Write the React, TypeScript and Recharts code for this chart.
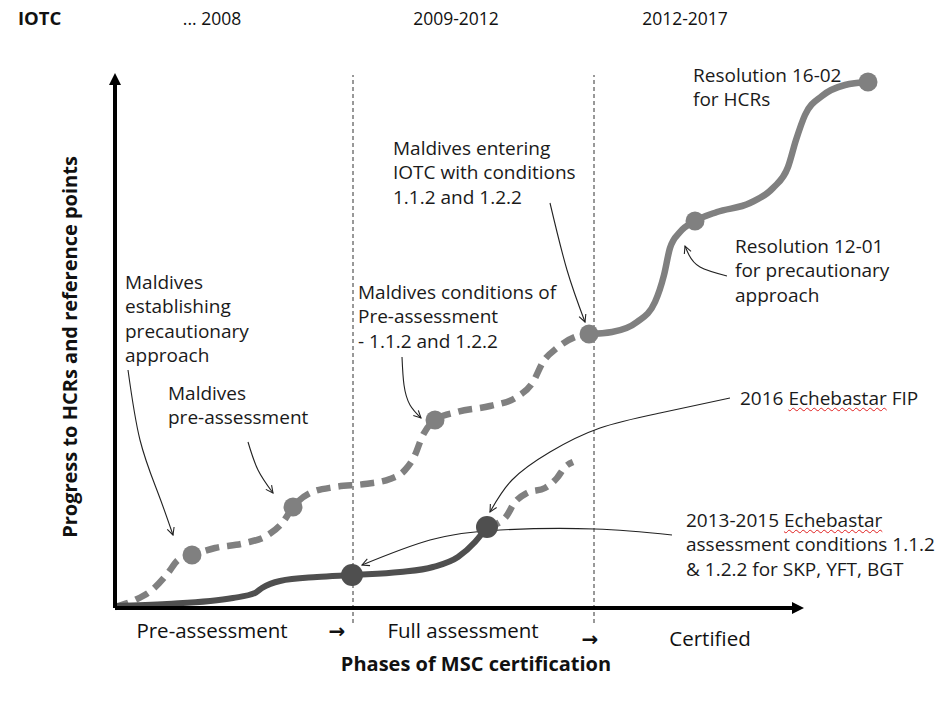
import React from 'react';
import { ComposedChart, Line, Scatter, XAxis, YAxis, ReferenceLine, Label } from 'recharts';

// Conceptual diagram: x = progress through time, y = progress to HCRs (arbitrary units)
const maldivesDashed = [
  { x: 0, y: 1 }, { x: 20, y: 8 }, { x: 37, y: 18 }, { x: 53, y: 35 }, { x: 63, y: 48 },
  { x: 77, y: 53 }, { x: 100, y: 60 }, { x: 130, y: 65 }, { x: 153, y: 73 }, { x: 168, y: 86 },
  { x: 178, y: 101 }, { x: 195, y: 115 }, { x: 220, y: 121 }, { x: 250, y: 124 }, { x: 275, y: 129 },
  { x: 290, y: 138 }, { x: 300, y: 153 }, { x: 307, y: 171 }, { x: 320, y: 188 }, { x: 342, y: 196 },
  { x: 375, y: 202 }, { x: 402, y: 211 }, { x: 418, y: 226 }, { x: 428, y: 246 }, { x: 442, y: 260 },
  { x: 460, y: 271 }, { x: 474, y: 274 },
];
const maldivesSolid = [
  { x: 474, y: 274 }, { x: 497, y: 276 }, { x: 522, y: 286 }, { x: 540, y: 306 }, { x: 549, y: 333 },
  { x: 555, y: 360 }, { x: 565, y: 376 }, { x: 580, y: 387 }, { x: 602, y: 396 }, { x: 635, y: 405 },
  { x: 658, y: 420 }, { x: 673, y: 441 }, { x: 681, y: 468 }, { x: 690, y: 493 }, { x: 707, y: 512 },
  { x: 730, y: 523 }, { x: 753, y: 526 },
];
const echebastarSolid = [
  { x: 0, y: 2 }, { x: 52, y: 4 }, { x: 118, y: 10 }, { x: 140, y: 15 }, { x: 147, y: 20 },
  { x: 165, y: 27 }, { x: 202, y: 31 }, { x: 237, y: 33 }, { x: 285, y: 36 }, { x: 318, y: 41 },
  { x: 343, y: 51 }, { x: 360, y: 66 }, { x: 372, y: 81 },
];
const echebastarDashed = [
  { x: 372, y: 81 }, { x: 390, y: 90 }, { x: 400, y: 106 }, { x: 412, y: 115 }, { x: 430, y: 120 },
  { x: 442, y: 130 }, { x: 450, y: 141 }, { x: 458, y: 146 },
];
const maldivesMilestones = [
  { x: 77, y: 53 }, { x: 178, y: 101 }, { x: 320, y: 188 }, { x: 474, y: 274 }, { x: 580, y: 387 }, { x: 753, y: 526 },
];
const echebastarMilestones = [{ x: 237, y: 33 }, { x: 372, y: 81 }];

// callout leaders (start at the text, end at the milestone)
const leaderEstablishing = [{ x: 13, y: 238 }, { x: 25, y: 168 }, { x: 43, y: 115 }, { x: 58, y: 73 }];
const leaderPreAssessment = [{ x: 133, y: 166 }, { x: 143, y: 138 }, { x: 158, y: 115 }];
const leaderConditions = [{ x: 287, y: 251 }, { x: 289, y: 223 }, { x: 295, y: 203 }, { x: 306, y: 190 }];
const leaderEntering = [{ x: 435, y: 405 }, { x: 452, y: 338 }, { x: 470, y: 286 }];
const leaderRes1201 = [{ x: 612, y: 332 }, { x: 585, y: 341 }, { x: 574, y: 353 }, { x: 570, y: 362 }];
const leaderFip = [
  { x: 615, y: 210 }, { x: 545, y: 195 }, { x: 485, y: 180 }, { x: 435, y: 156 }, { x: 397, y: 128 }, { x: 375, y: 96 },
];
const leaderAssessment = [{ x: 557, y: 73 }, { x: 480, y: 79 }, { x: 385, y: 78 }, { x: 315, y: 68 }, { x: 247, y: 43 }];

const xAxisLine = [{ x: 0, y: 0 }, { x: 678, y: 0 }];
const yAxisLine = [{ x: 0, y: 0 }, { x: 0, y: 524 }];

const annotations = [
  { x: 578, y: 533, lines: ['Resolution 16-02', 'for HCRs'] },
  { x: 278, y: 460, lines: ['Maldives entering', 'IOTC with conditions', '1.1.2 and 1.2.2'] },
  { x: 620, y: 362, lines: ['Resolution 12-01', 'for precautionary', 'approach'] },
  { x: 10, y: 326, lines: ['Maldives', 'establishing', 'precautionary', 'approach'] },
  { x: 53, y: 215, lines: ['Maldives', 'pre-assessment'] },
  { x: 243, y: 316, lines: ['Maldives conditions of', 'Pre-assessment', '- 1.1.2 and 1.2.2'] },
  { x: 625, y: 210, lines: ['2016 Echebastar FIP'] },
  { x: 571, y: 88, lines: ['2013-2015 Echebastar', 'assessment conditions 1.1.2', '& 1.2.2 for SKP, YFT, BGT'] },
];

const phaseTicks = [97, 222, 348, 475, 595];
const phaseLabels = ['Pre-assessment', '→', 'Full assessment', '→', 'Certified'];
const periodTicks = [97, 341, 570];
const periodLabels = ['... 2008', '2009-2012', '2012-2017'];

const FONT = '"Open Sans", "Noto Sans", sans-serif';
const LIGHT = '#808080';
const DARK = '#4f4f4f';
const LINE_H = 24.5;

function AnnotationText(props: any) {
  const { cx, cy, payload } = props;
  return (
    <foreignObject x={cx} y={cy - LINE_H / 2} width={330} height={payload.lines.length * LINE_H + 8}>
      <div style={{ fontFamily: FONT, fontSize: 19, lineHeight: `${LINE_H}px`, color: '#1a1a1a', whiteSpace: 'nowrap' }}>
        {payload.lines.map((line: string, i: number) => {
          const k = line.indexOf('Echebastar');
          if (k < 0) return <div key={i}>{line}</div>;
          return (
            <div key={i}>
              {line.slice(0, k)}
              <span style={{ textDecoration: 'underline wavy #e02020', textDecorationThickness: '1px', textUnderlineOffset: '2px' }}>
                Echebastar
              </span>
              {line.slice(k + 10)}
            </div>
          );
        })}
      </div>
    </foreignObject>
  );
}

function PhaseTick({ x, y, payload }: any) {
  const i = phaseTicks.indexOf(payload.value);
  const arrow = phaseLabels[i] === '→';
  const drop = i >= 3 ? 8 : 0;
  return (
    <text x={x} y={y + 30 + drop} textAnchor="middle" fill="#111"
      fontFamily={arrow ? '"DejaVu Sans", sans-serif' : FONT} fontWeight={arrow ? 'bold' : 'normal'}
      fontSize={arrow ? 20 : 20.5}>
      {phaseLabels[i]}
    </text>
  );
}

function PeriodTick({ x, y, payload }: any) {
  const i = periodTicks.indexOf(payload.value);
  return (
    <text x={x} y={y - 45} textAnchor="middle" fill="#111" fontFamily={FONT} fontSize={17.5}>
      {periodLabels[i]}
    </text>
  );
}

const dot = (r: number, fill: string) => (p: any) => <circle cx={p.cx} cy={p.cy} r={r} fill={fill} />;

export default function App() {
  const leader = (data: { x: number; y: number }[], key: string) => (
    <Line key={key} data={data} dataKey="y" type="natural" stroke="#222" strokeWidth={1.1}
      dot={false} activeDot={false} isAnimationActive={false} markerEnd="url(#leaderHead)" />
  );

  return (
    <div style={{ position: 'absolute', left: 0, top: 0, background: '#fff' }}>
      <ComposedChart width={946} height={702} margin={{ top: 0, right: 6, bottom: 0, left: 0 }}>
        <defs>
          <marker id="leaderHead" viewBox="0 0 10 10" refX="9" refY="5" markerWidth="9" markerHeight="9"
            markerUnits="userSpaceOnUse" orient="auto">
            <path d="M1,1 L9,5 L1,9" fill="none" stroke="#222" strokeWidth={1.2} />
          </marker>
          <marker id="axisHead" viewBox="0 0 12 12" refX="1" refY="6" markerWidth="13" markerHeight="12"
            markerUnits="userSpaceOnUse" orient="auto">
            <path d="M0,0 L12,6 L0,12 z" fill="#000" />
          </marker>
        </defs>

        <XAxis xAxisId={0} dataKey="x" type="number" domain={[0, 825]} height={94}
          ticks={phaseTicks} interval={0} tick={<PhaseTick />}
          axisLine={false} tickLine={false} tickSize={0} tickMargin={0}>
          <Label content={({ viewBox }: any) => (
            <text x={viewBox.x + 361} y={viewBox.y + 63} textAnchor="middle" fontFamily={FONT}
              fontWeight="bold" fontSize={20} fill="#111">Phases of MSC certification</text>
          )} />
        </XAxis>
        <XAxis xAxisId="top" orientation="top" dataKey="x" type="number" domain={[0, 825]} height={70}
          ticks={periodTicks} interval={0} tick={<PeriodTick />}
          axisLine={false} tickLine={false} tickSize={0} tickMargin={0}>
          <Label content={({ viewBox }: any) => (
            <text x={viewBox.x - 97} y={viewBox.y + 25} fontFamily={FONT}
              fontWeight="bold" fontSize={18.5} fill="#111">IOTC</text>
          )} />
        </XAxis>
        <YAxis dataKey="y" type="number" domain={[0, 538]} width={115} tick={false} axisLine={false} tickLine={false}>
          <Label content={({ viewBox }: any) => {
            const cx = viewBox.x + 77;
            const cy = viewBox.y + viewBox.height / 2 + 8;
            return (
              <text x={cx} y={cy} transform={`rotate(-90, ${cx}, ${cy})`} textAnchor="middle"
                fontFamily={FONT} fontWeight="bold" fontSize={20} fill="#111">
                Progress to HCRs and reference points
              </text>
            );
          }} />
        </YAxis>

        <ReferenceLine segment={[{ x: 238, y: -15 }, { x: 238, y: 533 }]} stroke="#333" strokeWidth={1}
          strokeDasharray="4 3" ifOverflow="visible" />
        <ReferenceLine segment={[{ x: 479, y: -15 }, { x: 479, y: 533 }]} stroke="#333" strokeWidth={1}
          strokeDasharray="4 3" ifOverflow="visible" />

        <Line data={maldivesDashed} dataKey="y" type="monotone" stroke={LIGHT} strokeWidth={6.5}
          strokeDasharray="14 8" dot={false} activeDot={false} isAnimationActive={false} />
        <Line data={maldivesSolid} dataKey="y" type="monotone" stroke={LIGHT} strokeWidth={6.5}
          dot={false} activeDot={false} isAnimationActive={false} />
        <Line data={echebastarDashed} dataKey="y" type="monotone" stroke={LIGHT} strokeWidth={6.5}
          strokeDasharray="13 8" dot={false} activeDot={false} isAnimationActive={false} />
        <Line data={echebastarSolid} dataKey="y" type="monotone" stroke={DARK} strokeWidth={6}
          dot={false} activeDot={false} isAnimationActive={false} />

        <Scatter data={maldivesMilestones} shape={dot(9.5, LIGHT)} isAnimationActive={false} />
        <Scatter data={echebastarMilestones} shape={dot(11, DARK)} isAnimationActive={false} />

        {leader(leaderEstablishing, 'l1')}
        {leader(leaderPreAssessment, 'l2')}
        {leader(leaderConditions, 'l3')}
        {leader(leaderEntering, 'l4')}
        {leader(leaderRes1201, 'l5')}
        {leader(leaderFip, 'l6')}
        {leader(leaderAssessment, 'l7')}

        <Line data={xAxisLine} dataKey="y" type="linear" stroke="#000" strokeWidth={4}
          dot={false} activeDot={false} isAnimationActive={false} markerEnd="url(#axisHead)" />
        <Line data={yAxisLine} dataKey="y" type="linear" stroke="#000" strokeWidth={4}
          dot={false} activeDot={false} isAnimationActive={false} markerEnd="url(#axisHead)" />

        <Scatter xAxisId="top" data={annotations} shape={<AnnotationText />} isAnimationActive={false} />
      </ComposedChart>
    </div>
  );
}
